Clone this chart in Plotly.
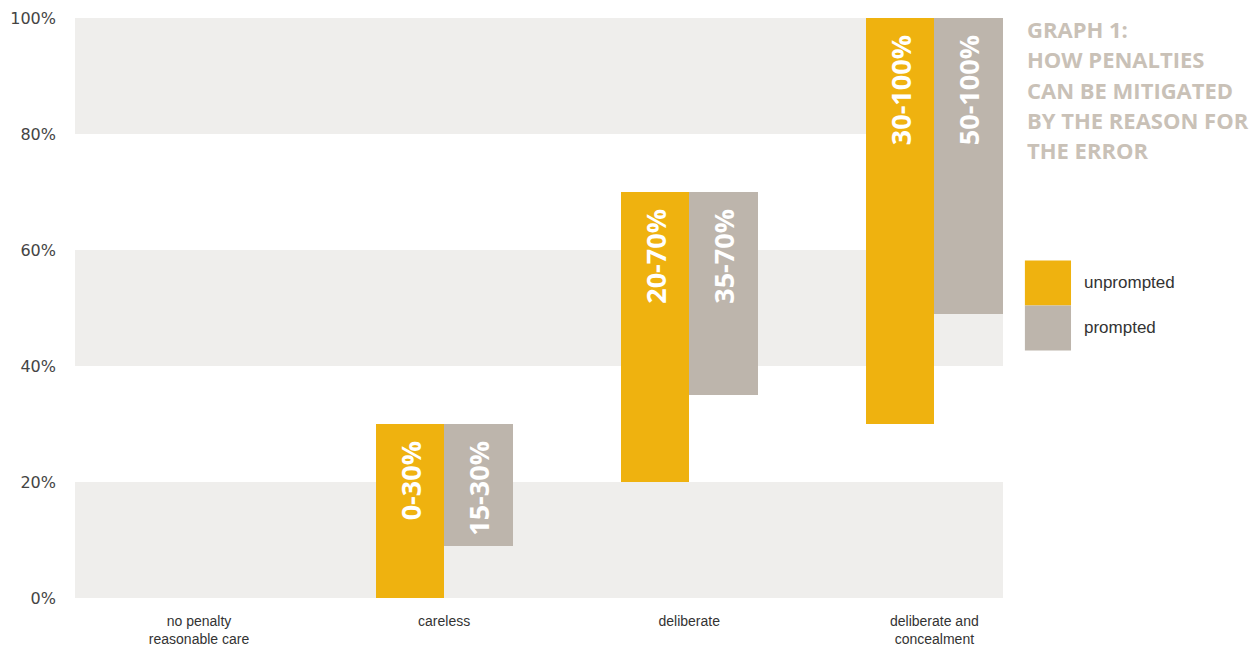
import plotly.graph_objects as go

categories = ["no penalty<br>reasonable care", "careless", "deliberate", "deliberate and<br>concealment"]
unprompted_low = [None, 0, 20, 30]
unprompted_high = [None, 30, 70, 100]
prompted_low = [None, 9, 35, 49]
prompted_high = [None, 30, 70, 100]
unprompted_text = ["", "0-30%", "20-70%", "30-100%"]
prompted_text = ["", "15-30%", "35-70%", "50-100%"]
y_ticks = [0, 20, 40, 60, 80, 100]
title_lines = ["GRAPH 1:", "HOW PENALTIES", "CAN BE MITIGATED", "BY THE REASON FOR", "THE ERROR"]
legend_names = ["unprompted", "prompted"]

YELLOW = "#EFB20F"
TAUPE = "#BDB5AC"
BAND = "#EFEEEC"
PAD = "\u00a0\u00a0"

xs = list(range(len(categories)))

def heights(lo, hi):
    return [None if l is None else h - l for l, h in zip(lo, hi)]

def padded(txt):
    return [t + PAD if t else "" for t in txt]

fig = go.Figure()
bar_text_font = dict(family="Open Sans, sans-serif", size=27, color="white", weight="bold")
fig.add_trace(go.Bar(
    x=xs, y=heights(unprompted_low, unprompted_high), base=unprompted_low,
    offset=-0.28, width=0.28, marker=dict(color=YELLOW, line=dict(width=0)),
    text=padded(unprompted_text), textposition="inside", insidetextanchor="end",
    textangle=-90, textfont=bar_text_font,
    name=legend_names[0], showlegend=False, hoverinfo="skip"))
fig.add_trace(go.Bar(
    x=xs, y=heights(prompted_low, prompted_high), base=prompted_low,
    offset=0, width=0.28, marker=dict(color=TAUPE, line=dict(width=0)),
    text=padded(prompted_text), textposition="inside", insidetextanchor="end",
    textangle=-90, textfont=bar_text_font,
    name=legend_names[1], showlegend=False, hoverinfo="skip"))

# background bands
for lo in [0, 40, 80]:
    fig.add_shape(type="rect", xref="paper", yref="y", x0=0, x1=1, y0=lo, y1=lo + 20,
                  fillcolor=BAND, line=dict(width=0), layer="below")

# title text, one line per annotation
for i, line in enumerate(title_lines):
    fig.add_annotation(xref="paper", yref="paper", x=1.024, y=0.981 - i * 0.0522,
                       xanchor="left", yanchor="middle", align="left", showarrow=False,
                       text=line,
                       font=dict(family="Open Sans, sans-serif", size=22, color="#C9C1B7",
                                 weight="bold"))

# custom legend
legend_colors = [YELLOW, TAUPE]
for i, (name, col) in enumerate(zip(legend_names, legend_colors)):
    y_top = 0.582 - i * 0.0776
    fig.add_shape(type="rect", xref="paper", yref="paper",
                  x0=1.0236, x1=1.0733, y0=y_top - 0.0776, y1=y_top,
                  fillcolor=col, line=dict(width=0))
    fig.add_annotation(xref="paper", yref="paper", x=1.085, y=y_top - 0.0388,
                       xanchor="left", yanchor="middle", showarrow=False, text=name,
                       font=dict(family="Liberation Sans, Arial, sans-serif", size=17, color="#333333"))

fig.update_layout(
    width=1260, height=649,
    margin=dict(l=75, r=257, t=18, b=51, autoexpand=False),
    paper_bgcolor="white", plot_bgcolor="white",
    barmode="overlay", bargap=0,
    xaxis=dict(range=[-0.506, 3.28], tickvals=xs, ticktext=categories,
               showgrid=False, zeroline=False, showline=False, ticks="",
               ticklabelstandoff=13, automargin=False,
               tickfont=dict(family="Liberation Sans, Arial, sans-serif", size=14, color="#333333"),
               fixedrange=True),
    yaxis=dict(range=[0, 100], tickvals=y_ticks, ticktext=[f"{v}%" for v in y_ticks],
               showgrid=False, zeroline=False, showline=False, ticks="",
               ticklabelstandoff=18, automargin=False,
               tickfont=dict(family="DejaVu Sans, Verdana, sans-serif", size=16, color="#444444"),
               fixedrange=True),
    showlegend=False,
)

fig.write_html("out.html", config={"displayModeBar": False},
               post_script="document.body.style.margin='0';document.body.style.overflow='hidden';")
